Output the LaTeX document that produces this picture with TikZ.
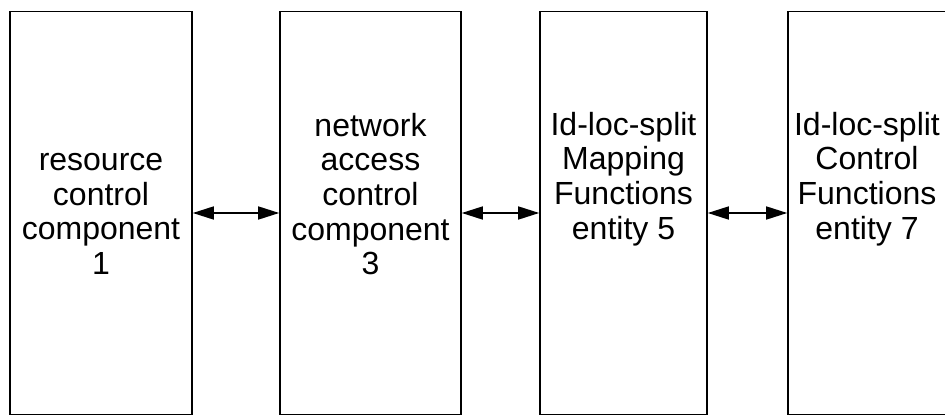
\documentclass[tikz,border=0pt]{standalone}
\usepackage{fontspec}
\setmainfont{Liberation Sans}
\usetikzlibrary{arrows.meta}

\begin{document}
\begin{tikzpicture}[x=1pt, y=-1pt,
    blk/.style={draw, line width=1.6pt, minimum height=403pt, inner sep=0pt},
    lbl/.style={align=center, font=\fontsize{32}{34.7}\selectfont, inner sep=0pt}
  ]
  \useasboundingbox (0,0) rectangle (945,417);
  \clip (0,0) rectangle (945,417);
  % the four blocks
  \node[blk, minimum width=182pt] (rcc)  at (101,213) {};
  \node[blk, minimum width=181pt] (nacc) at (370.5,213) {};
  \node[blk, minimum width=167pt] (ilmf) at (623.5,213) {};
  \node[blk, minimum width=200pt] (ilcf) at (888,213) {};
  % their texts
  \node[lbl] (rcc-t)  at (101,214)   {resource\\control\\component\\1};
  \node[lbl] (nacc-t) at (370.5,194) {network\\access\\control\\component\\3};
  \node[lbl] (ilmf-t) at (623.5,179) {Id-loc-split\\Mapping\\Functions\\entity 5};
  \node[lbl] (ilcf-t) at (867,179)   {Id-loc-split\\Control\\Functions\\entity 7};
  \path[{Triangle[length=21pt,width=13pt]}-{Triangle[length=21pt,width=13pt]}, line width=1.6pt]
  (rcc)  edge (nacc)
  (nacc) edge (ilmf)
  (ilmf) edge (ilcf)
  ;
\end{tikzpicture}
\end{document}
